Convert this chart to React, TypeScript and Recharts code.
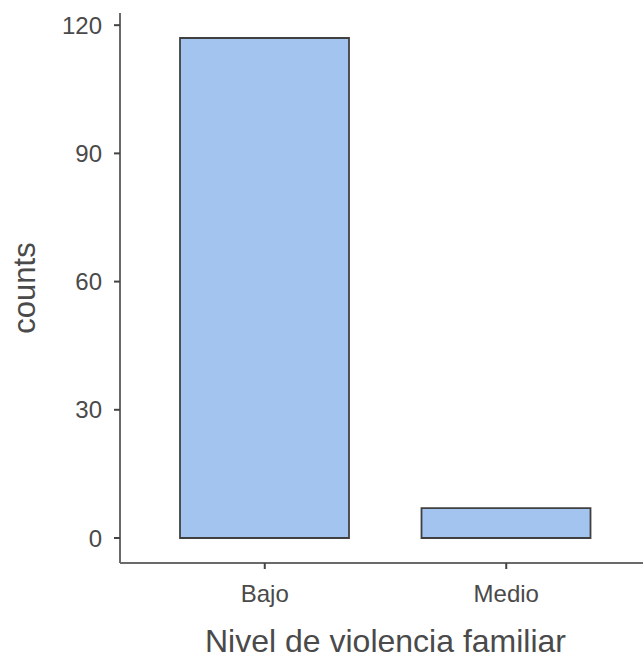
import React from 'react';
import { BarChart, Bar, XAxis, YAxis, Label } from 'recharts';

// category labels and counts
const categories = ['Bajo', 'Medio'];
const counts = [117, 7];
const yTicks = [0, 30, 60, 90, 120];

const data = categories.map((name, i) => ({ name, counts: counts[i] }));

const FONT = '"Liberation Sans", Arial, sans-serif';
const AXIS = '#6a6a6a';
const TEXT = '#4a4a4a';

const YTitle = (props: any) => {
  const { viewBox } = props;
  const cx = 35;
  const cy = viewBox.y + viewBox.height / 2;
  return (
    <text
      x={cx}
      y={cy}
      transform={`rotate(-90, ${cx}, ${cy})`}
      textAnchor="middle"
      fontSize={31}
      fontFamily={FONT}
      fill={TEXT}
    >
      counts
    </text>
  );
};

const App: React.FC = () => {
  return (
    <div style={{ position: 'absolute', left: 0, top: 0, width: 643, height: 658, overflow: 'hidden', background: '#fff' }}>
      <BarChart
        width={651}
        height={658}
        data={data}
        margin={{ top: 13, right: 0, bottom: 0, left: 0 }}
        barSize={169}
      >
        <XAxis
          dataKey="name"
          height={95}
          padding={{ left: 24, right: 24 }}
          axisLine={{ stroke: AXIS, strokeWidth: 2 }}
          tickLine={{ stroke: '#444', strokeWidth: 2 }}
          tickSize={6}
          tickMargin={16}
          tick={{ fontSize: 24, fontFamily: FONT, fill: TEXT }}
        >
          <Label
            value="Nivel de violencia familiar"
            position="insideBottom"
            offset={6}
            style={{ fontSize: 32, fontFamily: FONT, fill: TEXT }}
          />
        </XAxis>
        <YAxis
          width={120}
          type="number"
          domain={[-5.85, 122.85]}
          ticks={yTicks}
          allowDataOverflow
          axisLine={{ stroke: AXIS, strokeWidth: 2 }}
          tickLine={{ stroke: '#444', strokeWidth: 2 }}
          tickSize={6}
          tickMargin={12}
          tick={{ fontSize: 24, fontFamily: FONT, fill: TEXT }}
        >
          <Label content={<YTitle />} />
        </YAxis>
        <Bar
          dataKey="counts"
          fill="#A4C4F0"
          stroke="#404040"
          strokeWidth={1.8}
          isAnimationActive={false}
        />
      </BarChart>
    </div>
  );
};

export default App;
